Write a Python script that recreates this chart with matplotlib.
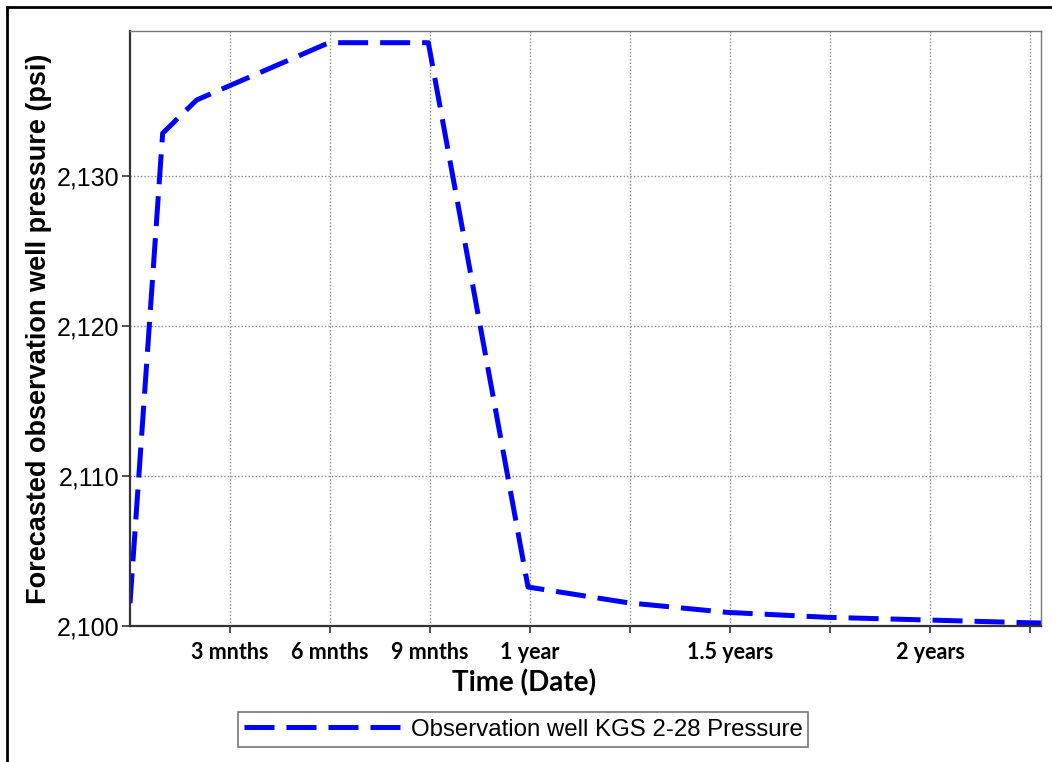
import matplotlib
matplotlib.use("Agg")
import matplotlib.pyplot as plt
from matplotlib.lines import Line2D

# time in months since start, pressure in psi
months = [0.0, 0.98, 2.0, 5.97, 8.95, 11.94, 14.94, 17.91, 20.91, 23.94, 26.88, 27.33]
pressure = [2101.5, 2132.85, 2135.07, 2138.89, 2138.89, 2102.58, 2101.53,
            2100.89, 2100.56, 2100.38, 2100.20, 2100.18]

grid_months = [3, 6, 9, 12, 15, 18, 21, 24, 27]
grid_labels = ["3 mnths", "6 mnths", "9 mnths", "1 year", "", "1.5 years", "", "2 years", ""]
y_ticks = [2100, 2110, 2120, 2130]
y_labels = ["2,100", "2,110", "2,120", "2,130"]
series_name = "Observation well KGS 2-28 Pressure"

fig = plt.figure(figsize=(10.52, 7.62), dpi=100)
ax = fig.add_axes([130 / 1052, 1 - 625.7 / 762, 911 / 1052, 594.7 / 762])

line, = ax.plot(months, pressure, color="#0000ff", lw=3.6,
                linestyle=(0, (6, 2.4)), dash_capstyle="butt", label=series_name)

ax.set_xlim(0, 27.33)
ax.set_ylim(2100, 2139.67)

ax.set_xticks(grid_months)
ax.set_xticklabels(grid_labels, fontfamily="Lato", fontweight="bold", fontsize=15.5)
ax.set_yticks(y_ticks)
ax.set_yticklabels(y_labels, fontfamily="Liberation Sans", fontsize=18)
ax.tick_params(axis="x", length=5, width=1.2, color="#333333", pad=7)
ax.tick_params(axis="y", length=6, width=1.2, color="#333333", pad=2)

ax.grid(True, linestyle=(0, (1, 1.5)), color="#888888", linewidth=1)
for s in ["left", "bottom"]:
    ax.spines[s].set_linewidth(1.6)
    ax.spines[s].set_color("#333333")
for s in ["top", "right"]:
    ax.spines[s].set_linewidth(1)
    ax.spines[s].set_color("#777777")

ax.set_xlabel("Time (Date)", fontfamily="Lato", fontweight="bold", fontsize=20, labelpad=4)
ax.xaxis.label.set_x((524 - 130) / 911)
ax.set_ylabel("Forecasted observation well pressure (psi)", fontfamily="Liberation Sans",
              fontweight="bold", fontsize=19.5, labelpad=3)

leg = fig.legend(handles=[line], loc="center", bbox_to_anchor=(523 / 1052, 1 - 729.5 / 762),
                 prop={"family": "Liberation Sans", "size": 17.3}, handlelength=6.6,
                 fancybox=False, framealpha=1, borderpad=0.25, handletextpad=0.35)
leg.get_frame().set_edgecolor("#777777")
leg.get_frame().set_linewidth(1.2)

# outer frame (left and top edges)
fig.add_artist(Line2D([7 / 1052, 7 / 1052], [0, 1 - 7 / 762], transform=fig.transFigure,
                      color="black", lw=2))
fig.add_artist(Line2D([7 / 1052, 1], [1 - 7 / 762, 1 - 7 / 762], transform=fig.transFigure,
                      color="black", lw=2))

fig.savefig("out.png", dpi=100)
